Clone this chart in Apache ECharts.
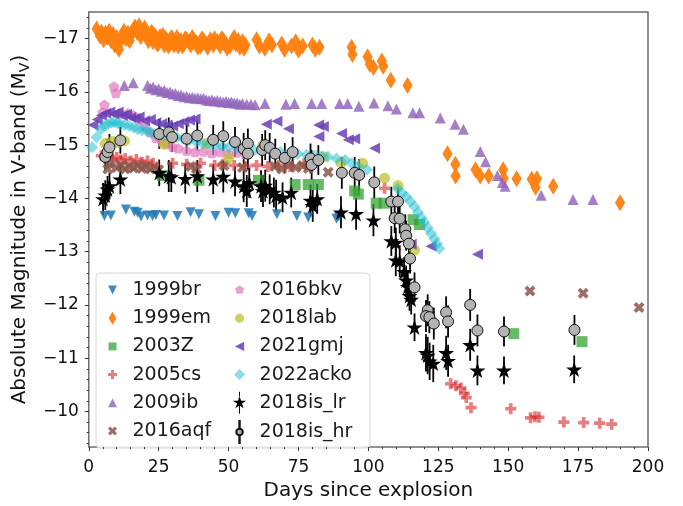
<!DOCTYPE html>
<html>
<head>
<meta charset="utf-8">
<script src="https://cdn.jsdelivr.net/npm/echarts@6/dist/echarts.min.js"></script>
<style>
  html, body { margin: 0; padding: 0; background: #fff; }
  #chart { width: 683px; height: 506px; }
</style>
</head>
<body>
<div id="chart"></div>
<script>
// Light curves: [days since explosion, absolute V magnitude]
const sn1999br = [[5.6,-13.67],[7.9,-13.68],[13.3,-13.79],[16.3,-13.75],[17.5,-13.73],[18.7,-13.66],[21.0,-13.68],[22.8,-13.67],[24.0,-13.69],[26.9,-13.68],[31.7,-13.67],[36.4,-13.74],[39.4,-13.70],[45.3,-13.67],[50.0,-13.73],[52.4,-13.72],[57.2,-13.72],[58.4,-13.67],[67.3,-13.70],[74.4,-13.67],[78.5,-13.64],[88.6,-13.62],[89.4,-13.66]];

const sn1999em = [[2.8,-17.18],[4.0,-17.05],[4.6,-17.12],[5.3,-16.98],[6.0,-17.10],[6.7,-17.02],[7.3,-17.14],[8.0,-16.96],[8.6,-17.08],[9.3,-16.88],[10.0,-17.02],[10.8,-16.80],[11.3,-16.95],[12.0,-17.06],[12.6,-17.14],[13.3,-17.00],[14.0,-17.10],[14.6,-16.96],[15.3,-17.08],[16.0,-17.16],[16.5,-17.22],[17.3,-17.12],[18.0,-17.24],[18.6,-17.04],[19.3,-17.12],[20.0,-17.20],[20.6,-17.08],[21.3,-16.96],[22.0,-17.04],[22.5,-17.12],[23.0,-16.94],[23.5,-17.06],[24.0,-17.02],[24.5,-16.90],[25.0,-16.92],[25.5,-17.04],[26.0,-16.98],[26.5,-17.06],[27.0,-16.88],[27.5,-17.00],[28.0,-16.96],[28.5,-16.86],[29.0,-16.90],[29.5,-17.02],[30.0,-17.00],[30.5,-16.88],[31.0,-16.92],[31.5,-17.02],[32.0,-16.86],[32.5,-16.94],[33.0,-16.96],[33.5,-16.86],[34.0,-16.90],[34.5,-17.00],[35.0,-16.98],[36.0,-16.94],[36.5,-16.88],[37.0,-17.02],[37.5,-16.98],[38.5,-16.92],[39.0,-16.84],[40.0,-16.86],[40.5,-17.00],[41.0,-16.96],[42.0,-16.90],[42.5,-16.84],[43.5,-16.98],[44.5,-16.88],[45.0,-17.00],[46.0,-16.94],[47.0,-16.86],[47.5,-17.00],[48.0,-16.98],[49.0,-16.90],[49.5,-16.82],[50.5,-16.86],[51.5,-16.96],[52.0,-17.02],[52.5,-16.90],[53.5,-16.96],[54.0,-16.84],[55.0,-16.94],[55.5,-16.82],[56.0,-16.88],[60.0,-16.98],[61.0,-16.86],[63.0,-16.82],[64.5,-16.96],[65.5,-16.88],[69.0,-16.90],[70.0,-16.80],[72.5,-16.86],[74.0,-16.94],[75.0,-16.78],[76.5,-16.86],[80.0,-16.88],[81.0,-16.80],[82.5,-16.84],[94.0,-16.84],[94.3,-16.70],[99.7,-16.66],[100.5,-16.52],[101.8,-16.46],[104.8,-16.58],[105.3,-16.48],[108.0,-16.22],[114.0,-16.12],[128.3,-14.84],[131.1,-14.64],[131.2,-14.42],[138.3,-14.54],[140.0,-14.42],[143.0,-14.42],[148.2,-14.54],[148.4,-14.38],[153.0,-14.37],[158.4,-14.36],[160.3,-14.37],[159.8,-14.21],[166.1,-14.23],[190.0,-13.92]];

const sn2003Z = [[26.3,-14.43],[39.4,-14.34],[60.7,-14.34],[73.8,-14.26],[78.5,-14.26],[82.1,-14.26],[95.1,-14.14],[96.4,-14.08],[102.8,-13.91],[105.6,-13.91],[116.0,-13.60],[118.3,-13.51],[152.0,-11.46],[176.4,-11.31]];

const sn2005cs = [[4.5,-14.80],[5.8,-14.76],[7.0,-14.79],[8.5,-14.74],[10.0,-14.77],[11.5,-14.72],[13.0,-14.75],[15.0,-14.70],[17.0,-14.73],[19.0,-14.68],[21.0,-14.70],[23.0,-14.66],[30.0,-14.66],[35.0,-14.64],[40.0,-14.66],[45.0,-14.62],[48.0,-14.64],[52.0,-14.62],[56.0,-14.60],[60.0,-14.62],[64.0,-14.60],[68.0,-14.62],[72.0,-14.60],[77.0,-14.65],[105.8,-14.19],[129.4,-10.52],[131.3,-10.48],[133.1,-10.44],[134.3,-10.34],[135.0,-10.26],[136.7,-10.07],[150.9,-10.05],[158.0,-9.88],[159.6,-9.90],[161.0,-9.89],[169.9,-9.80],[177.0,-9.79],[182.7,-9.78],[187.0,-9.76]];

const sn2009ib = [[12.7,-16.12],[15.9,-16.17],[21.0,-16.12],[22.0,-16.07],[23.0,-16.09],[24.0,-16.04],[25.0,-16.06],[26.0,-16.01],[27.0,-16.03],[28.0,-15.99],[29.0,-16.00],[30.0,-15.96],[31.0,-15.97],[32.0,-15.93],[33.0,-15.94],[34.0,-15.91],[35.0,-15.92],[36.0,-15.89],[37.0,-15.90],[38.0,-15.88],[39.0,-15.89],[40.0,-15.87],[41.0,-15.88],[42.0,-15.85],[43.0,-15.84],[44.0,-15.85],[45.0,-15.83],[46.0,-15.84],[47.0,-15.82],[48.0,-15.81],[49.0,-15.82],[50.0,-15.80],[51.0,-15.81],[52.0,-15.79],[53.0,-15.79],[54.0,-15.77],[55.0,-15.78],[56.5,-15.77],[58.0,-15.77],[59.5,-15.76],[63.0,-15.78],[70.5,-15.77],[73.6,-15.78],[79.7,-15.78],[83.3,-15.78],[89.7,-15.78],[92.6,-15.78],[96.6,-15.73],[102.0,-15.79],[107.0,-15.74],[110.0,-15.68],[115.9,-15.61],[118.3,-15.61],[125.7,-15.51],[131.0,-15.39],[134.0,-15.30],[140.0,-14.88],[141.9,-14.69],[146.1,-14.43],[147.9,-14.30],[148.9,-14.23],[161.8,-14.06],[173.2,-13.98],[180.3,-13.98]];

const sn2016aqf = [[6.8,-14.55],[7.5,-14.65],[10.0,-14.58],[11.5,-14.62],[13.0,-14.55],[14.5,-14.60],[16.0,-14.57],[17.5,-14.62],[19.0,-14.56],[20.5,-14.60],[22.0,-14.55],[23.5,-14.58],[25.0,-14.54],[36.5,-14.60],[38.5,-14.55],[48.4,-14.62],[55.0,-14.58],[66.5,-14.60],[69.0,-14.55],[71.5,-14.62],[74.0,-14.58],[76.5,-14.62],[78.5,-14.56],[85.6,-14.49],[157.8,-12.26],[176.8,-12.22],[196.8,-11.95]];

const sn2016bkv = [[5.0,-15.62],[5.6,-15.76],[9.0,-16.10],[9.7,-15.98],[11.0,-15.60],[14.0,-15.60],[16.0,-15.56],[18.0,-15.48],[20.0,-15.36],[22.0,-15.24],[24.0,-15.14],[26.0,-15.08],[28.0,-15.02],[30.0,-14.97],[32.0,-14.94],[35.0,-14.90],[38.0,-14.87],[41.0,-14.88],[44.0,-14.85],[47.0,-14.87],[50.0,-14.84],[53.0,-14.86],[56.0,-14.84]];

const sn2018lab = [[5.9,-15.03],[8.6,-15.07],[10.5,-15.05],[12.8,-15.08],[26.8,-15.02],[42.2,-15.03],[50.0,-14.76],[62.3,-15.00],[84.0,-14.78],[90.2,-14.67],[97.9,-14.66],[105.8,-14.38],[110.6,-14.24],[116.5,-13.03]];

const sn2021gmj = [[1.5,-15.38],[3.0,-15.48],[4.5,-15.56],[6.0,-15.60],[7.5,-15.62],[9.0,-15.58],[10.5,-15.62],[12.0,-15.55],[13.5,-15.58],[15.0,-15.52],[16.5,-15.50],[18.0,-15.53],[20.0,-15.46],[22.0,-15.48],[24.0,-15.42],[26.0,-15.40],[28.0,-15.38],[30.0,-15.36],[32.0,-15.40],[34.0,-15.44],[36.0,-15.47],[38.0,-15.49],[63.5,-15.39],[67.3,-15.45],[71.4,-15.31],[82.2,-15.38],[83.9,-15.35],[82.3,-15.16],[90.4,-15.22],[92.8,-15.10],[95.1,-15.12],[102.2,-14.94],[115.3,-13.14],[122.4,-13.10],[139.0,-12.95]];

const sn2022acko = [[1.2,-14.96],[2.8,-15.15],[4.3,-15.30],[5.5,-15.36],[6.7,-15.39],[8.0,-15.42],[9.0,-15.43],[10.2,-15.41],[11.3,-15.39],[12.8,-15.38],[14.4,-15.36],[16.0,-15.33],[17.5,-15.30],[19.0,-15.28],[20.6,-15.27],[22.2,-15.24],[23.7,-15.21],[25.3,-15.19],[26.8,-15.18],[29.0,-15.16],[31.4,-15.15],[33.7,-15.12],[36.0,-15.09],[38.4,-15.06],[40.7,-15.03],[43.0,-15.01],[45.3,-15.00],[47.7,-14.98],[50.0,-14.96],[53.0,-14.94],[56.1,-14.93],[59.2,-14.91],[62.3,-14.90],[65.4,-14.88],[68.5,-14.87],[71.6,-14.85],[74.7,-14.84],[77.8,-14.82],[80.9,-14.81],[83.2,-14.79],[85.5,-14.78],[88.6,-14.75],[91.7,-14.72],[94.0,-14.66],[96.4,-14.60],[99.5,-14.54],[110.5,-14.18],[112.0,-14.10],[113.5,-14.03],[115.0,-13.94],[116.5,-13.85],[117.7,-13.74],[118.9,-13.64],[120.0,-13.55],[121.2,-13.45],[122.4,-13.34],[123.6,-13.24],[124.5,-13.15],[125.4,-13.06]];

// SN 2018is: [day, magnitude, 1-sigma error]
const sn2018isLr = [[5.1,-13.99,0.30],[5.9,-14.06,0.28],[6.7,-14.17,0.25],[7.4,-14.23,0.25],[11.3,-14.36,0.28],[25.2,-14.48,0.25],[28.6,-14.42,0.30],[29.5,-14.40,0.28],[34.5,-14.37,0.28],[38.8,-14.42,0.30],[44.5,-14.36,0.28],[48.1,-14.41,0.30],[52.3,-14.32,0.28],[55.4,-14.23,0.30],[56.5,-14.14,0.30],[57.4,-14.29,0.28],[61.6,-14.23,0.30],[62.3,-14.14,0.30],[63.1,-14.24,0.30],[64.7,-14.17,0.28],[66.2,-14.11,0.28],[67.0,-14.05,0.30],[69.3,-14.02,0.28],[72.4,-14.11,0.28],[79.3,-13.96,0.30],[80.1,-13.86,0.30],[81.7,-13.99,0.28],[90.2,-13.74,0.30],[95.6,-13.71,0.30],[101.8,-13.59,0.30],[108.2,-13.20,0.28],[109.8,-13.17,0.28],[109.8,-12.84,0.30],[111.2,-12.82,0.30],[112.8,-12.62,0.28],[113.5,-12.46,0.28],[114.1,-12.34,0.28],[114.7,-12.17,0.28],[115.3,-12.10,0.28],[116.5,-11.58,0.26],[120.6,-11.10,0.35],[121.2,-11.05,0.35],[121.9,-10.94,0.35],[123.2,-10.90,0.35],[127.8,-11.10,0.32],[128.5,-10.95,0.30],[136.4,-11.25,0.30],[139.0,-10.77,0.28],[148.5,-10.77,0.26],[173.6,-10.79,0.26]];

const sn2018isHr = [[5.9,-14.78,0.25],[6.7,-14.87,0.25],[7.4,-14.96,0.25],[11.3,-15.09,0.25],[25.2,-15.21,0.28],[28.6,-15.24,0.28],[29.8,-15.15,0.28],[35.0,-15.12,0.28],[38.8,-15.18,0.28],[44.5,-15.10,0.28],[48.1,-15.17,0.28],[52.3,-15.06,0.28],[55.4,-14.93,0.30],[56.9,-15.03,0.28],[56.9,-14.84,0.30],[62.0,-14.91,0.30],[63.1,-15.00,0.28],[64.7,-14.95,0.28],[66.7,-14.84,0.28],[70.1,-14.76,0.28],[72.9,-14.87,0.28],[79.3,-14.75,0.28],[79.7,-14.63,0.28],[82.1,-14.72,0.28],[90.5,-14.48,0.30],[95.1,-14.48,0.30],[96.7,-14.44,0.30],[102.1,-14.30,0.30],[108.2,-13.94,0.28],[110.6,-13.94,0.28],[109.4,-13.63,0.28],[111.2,-13.62,0.28],[113.2,-13.42,0.28],[113.5,-13.30,0.28],[114.5,-13.15,0.28],[114.9,-12.87,0.28],[116.5,-12.33,0.28],[121.2,-11.90,0.30],[120.6,-11.79,0.30],[121.8,-11.77,0.30],[123.4,-11.65,0.30],[127.8,-11.86,0.30],[128.5,-11.69,0.30],[136.4,-12.00,0.30],[139.0,-11.52,0.30],[148.5,-11.50,0.28],[173.7,-11.53,0.28]];

// Axis ticks
const xTicks = [0, 25, 50, 75, 100, 125, 150, 175, 200];
const yTicks = [-17, -16, -15, -14, -13, -12, -11, -10];

const FONT = 'DejaVu Sans';

// Marker outlines (unit coordinates, y pointing down)
const P_TRI_DOWN = 'M-1,-1 L1,-1 L0,1 Z';
const P_TRI_UP = 'M0,-1 L1,1 L-1,1 Z';
const P_TRI_LEFT = 'M-1,0 L1,-1 L1,1 Z';
const P_THIN_DIAMOND = 'M0,-1 L0.6,0 L0,1 L-0.6,0 Z';
const P_DIAMOND = 'M0,-1 L1,0 L0,1 L-1,0 Z';
const P_SQUARE = 'M-1,-1 L1,-1 L1,1 L-1,1 Z';
const P_PLUS = 'M-1,-3 L1,-3 L1,-1 L3,-1 L3,1 L1,1 L1,3 L-1,3 L-1,1 L-3,1 L-3,-1 L-1,-1 Z';
const P_XFILL = 'M1,-2 L2,-1 L1,0 L2,1 L1,2 L0,1 L-1,2 L-2,1 L-1,0 L-2,-1 L-1,-2 L0,-1 Z';
const P_PENTAGON = 'M0,-1 L0.951,-0.309 L0.588,0.809 L-0.588,0.809 L-0.951,-0.309 Z';
const P_CIRCLE = 'M-1,0 A1,1 0 1 1 1,0 A1,1 0 1 1 -1,0 Z';
const P_STAR = 'M0,-1 L0.2245,-0.309 L0.951,-0.309 L0.363,0.118 L0.588,0.809 L0,0.382 L-0.588,0.809 L-0.363,0.118 L-0.951,-0.309 L-0.2245,-0.309 Z';

// Legend icons: marker padded vertically with an empty point pair so it keeps a small size
function padded(path, half) {
  return 'path://' + path + ' M0,' + (-half) + ' L0,' + (-half) + ' M0,' + half + ' L0,' + half;
}
const ICON_LR = 'path://' + P_STAR +
  ' M-0.07,-1.6 L0.07,-1.6 L0.07,-0.95 L-0.07,-0.95 Z M-0.07,0.4 L0.07,0.4 L0.07,1.6 L-0.07,1.6 Z';
const ICON_HR = 'path://' + P_CIRCLE +
  ' M-0.06,-3.4 L0.06,-3.4 L0.06,-1 L-0.06,-1 Z M-0.06,1 L0.06,1 L0.06,3.4 L-0.06,3.4 Z';

function scatter(name, data, symbol, size, color, opacity, extra) {
  return Object.assign({
    name, type: 'scatter', data, symbol, symbolSize: size, symbolKeepAspect: true,
    itemStyle: { color, opacity }, emphasis: { disabled: true }, animation: false
  }, extra || {});
}

function errorBars(name, data) {
  return {
    name, type: 'custom', data, animation: false, silent: true,
    encode: { x: 0, y: 1 },
    renderItem: function (params, api) {
      const x = api.value(0), y = api.value(1), e = api.value(2);
      const a = api.coord([x, y - e]);
      const b = api.coord([x, y + e]);
      return { type: 'line', shape: { x1: a[0], y1: a[1], x2: b[0], y2: b[1] },
               style: { stroke: '#000', lineWidth: 1.8 } };
    }
  };
}

const minorY = [];
for (let v = -17.4; v <= -9.4; v += 0.2) {
  const r = Math.round(v * 10) / 10;
  if (Math.abs(r - Math.round(r)) > 1e-6) minorY.push(r);
}

const legendText = { fontFamily: FONT, fontSize: 19, color: '#1a1a1a' };
const legendCommon = {
  orient: 'vertical', padding: 0, itemWidth: 30, itemHeight: 22, itemGap: 6.2,
  selectedMode: false, textStyle: legendText, top: 279
};

const chart = echarts.init(document.getElementById('chart'), null, { renderer: 'canvas' });
chart.setOption({
  backgroundColor: '#fff',
  animation: false,
  grid: { left: 86, right: 35, top: 12, bottom: 48, show: true,
          borderColor: '#6e6e6e', borderWidth: 1.5, backgroundColor: '#fff' },
  xAxis: {
    type: 'value', min: 0, max: 200, interval: 25,
    name: 'Days since explosion', nameLocation: 'middle', nameGap: 30,
    nameTextStyle: { fontFamily: FONT, fontSize: 20, color: '#111' },
    axisLine: { show: false },
    axisTick: { show: true, length: 4, lineStyle: { color: '#333', width: 1 } },
    minorTick: { show: true, splitNumber: 5, length: 2, lineStyle: { color: '#333', width: 1 } },
    axisLabel: { fontFamily: FONT, fontSize: 17, color: '#111', margin: 12,
                 customValues: xTicks },
    splitLine: { show: false }, minorSplitLine: { show: false }
  },
  yAxis: [{
    type: 'value', min: -17.5, max: -9.33, inverse: true, interval: 0.5,
    name: 'Absolute Magnitude in V-band (M{sub|V})', nameLocation: 'middle', nameGap: 47,
    nameTextStyle: { fontFamily: FONT, fontSize: 20, color: '#111', lineHeight: 24,
      rich: { sub: { fontFamily: FONT, fontSize: 14, lineHeight: 14, verticalAlign: 'bottom', color: '#111' } } },
    axisLine: { show: false },
    axisTick: { show: true, length: 4, customValues: yTicks, lineStyle: { color: '#333', width: 1 } },
    axisLabel: { fontFamily: FONT, fontSize: 17, color: '#111', margin: 10, customValues: yTicks,
                 formatter: v => String(v).replace('-', '\u2212') },
    splitLine: { show: false }
  }, {
    type: 'value', min: -17.5, max: -9.33, inverse: true, interval: 0.5, position: 'left',
    axisLine: { show: false }, axisLabel: { show: false }, splitLine: { show: false },
    axisTick: { show: true, length: 2, customValues: minorY, lineStyle: { color: '#333', width: 1 } }
  }],
  legend: [
    Object.assign({}, legendCommon, {
      left: 108,
      data: [
        { name: '1999br', icon: padded(P_TRI_DOWN, 2.5) },
        { name: '1999em', icon: padded(P_THIN_DIAMOND, 1.7) },
        { name: '2003Z', icon: padded(P_SQUARE, 2.75) },
        { name: '2005cs', icon: padded(P_PLUS, 7.3) },
        { name: '2009ib', icon: padded(P_TRI_UP, 2.5) },
        { name: '2016aqf', icon: padded(P_XFILL, 4.9) }
      ]
    }),
    Object.assign({}, legendCommon, {
      left: 233,
      data: [
        { name: '2016bkv', icon: padded(P_PENTAGON, 2.3) },
        { name: '2018lab', icon: padded(P_CIRCLE, 2.4) },
        { name: '2021gmj', icon: padded(P_TRI_LEFT, 2.4) },
        { name: '2022acko', icon: padded(P_DIAMOND, 2.0) },
        { name: '2018is_lr', icon: ICON_LR },
        { name: '2018is_hr', icon: ICON_HR }
      ]
    })
  ],
  graphic: [{
    type: 'rect', z: 0, silent: true,
    shape: { x: 96, y: 273, width: 274, height: 175, r: 4 },
    style: { fill: 'rgba(255,255,255,0.85)', stroke: '#d6d6d6', lineWidth: 1 }
  }],
  series: [
    scatter('1999br', sn1999br, 'path://' + P_TRI_DOWN, 10, '#1f77b4', 0.85),
    scatter('1999em', sn1999em, 'path://' + P_THIN_DIAMOND, 17, '#ff7f0e', 0.95),
    scatter('2003Z', sn2003Z, 'rect', 11, '#2ca02c', 0.72),
    scatter('2005cs', sn2005cs, 'path://' + P_PLUS, 11, '#d62728', 0.6),
    scatter('2009ib', sn2009ib, 'triangle', 11, '#9467bd', 0.85),
    scatter('2016aqf', sn2016aqf, 'path://' + P_XFILL, 11, '#8c564b', 0.85),
    scatter('2016bkv', sn2016bkv, 'path://' + P_PENTAGON, 11, '#e377c2', 0.7),
    scatter('2018lab', sn2018lab, 'circle', 11, '#bcbd22', 0.7),
    scatter('2021gmj', sn2021gmj, 'path://' + P_TRI_LEFT, 11, '#6a3fb5', 0.85),
    scatter('2022acko', sn2022acko, 'diamond', 12, '#17becf', 0.5),
    errorBars('2018is_lr error', sn2018isLr),
    scatter('2018is_lr', sn2018isLr, 'path://' + P_STAR, 16, '#000000', 1),
    errorBars('2018is_hr error', sn2018isHr),
    scatter('2018is_hr', sn2018isHr, 'path://' + P_CIRCLE, 11, '#b3b3b3', 1,
      { itemStyle: { color: '#b3b3b3', borderColor: '#111', borderWidth: 1, opacity: 1 } })
  ]
});
</script>
</body>
</html>
